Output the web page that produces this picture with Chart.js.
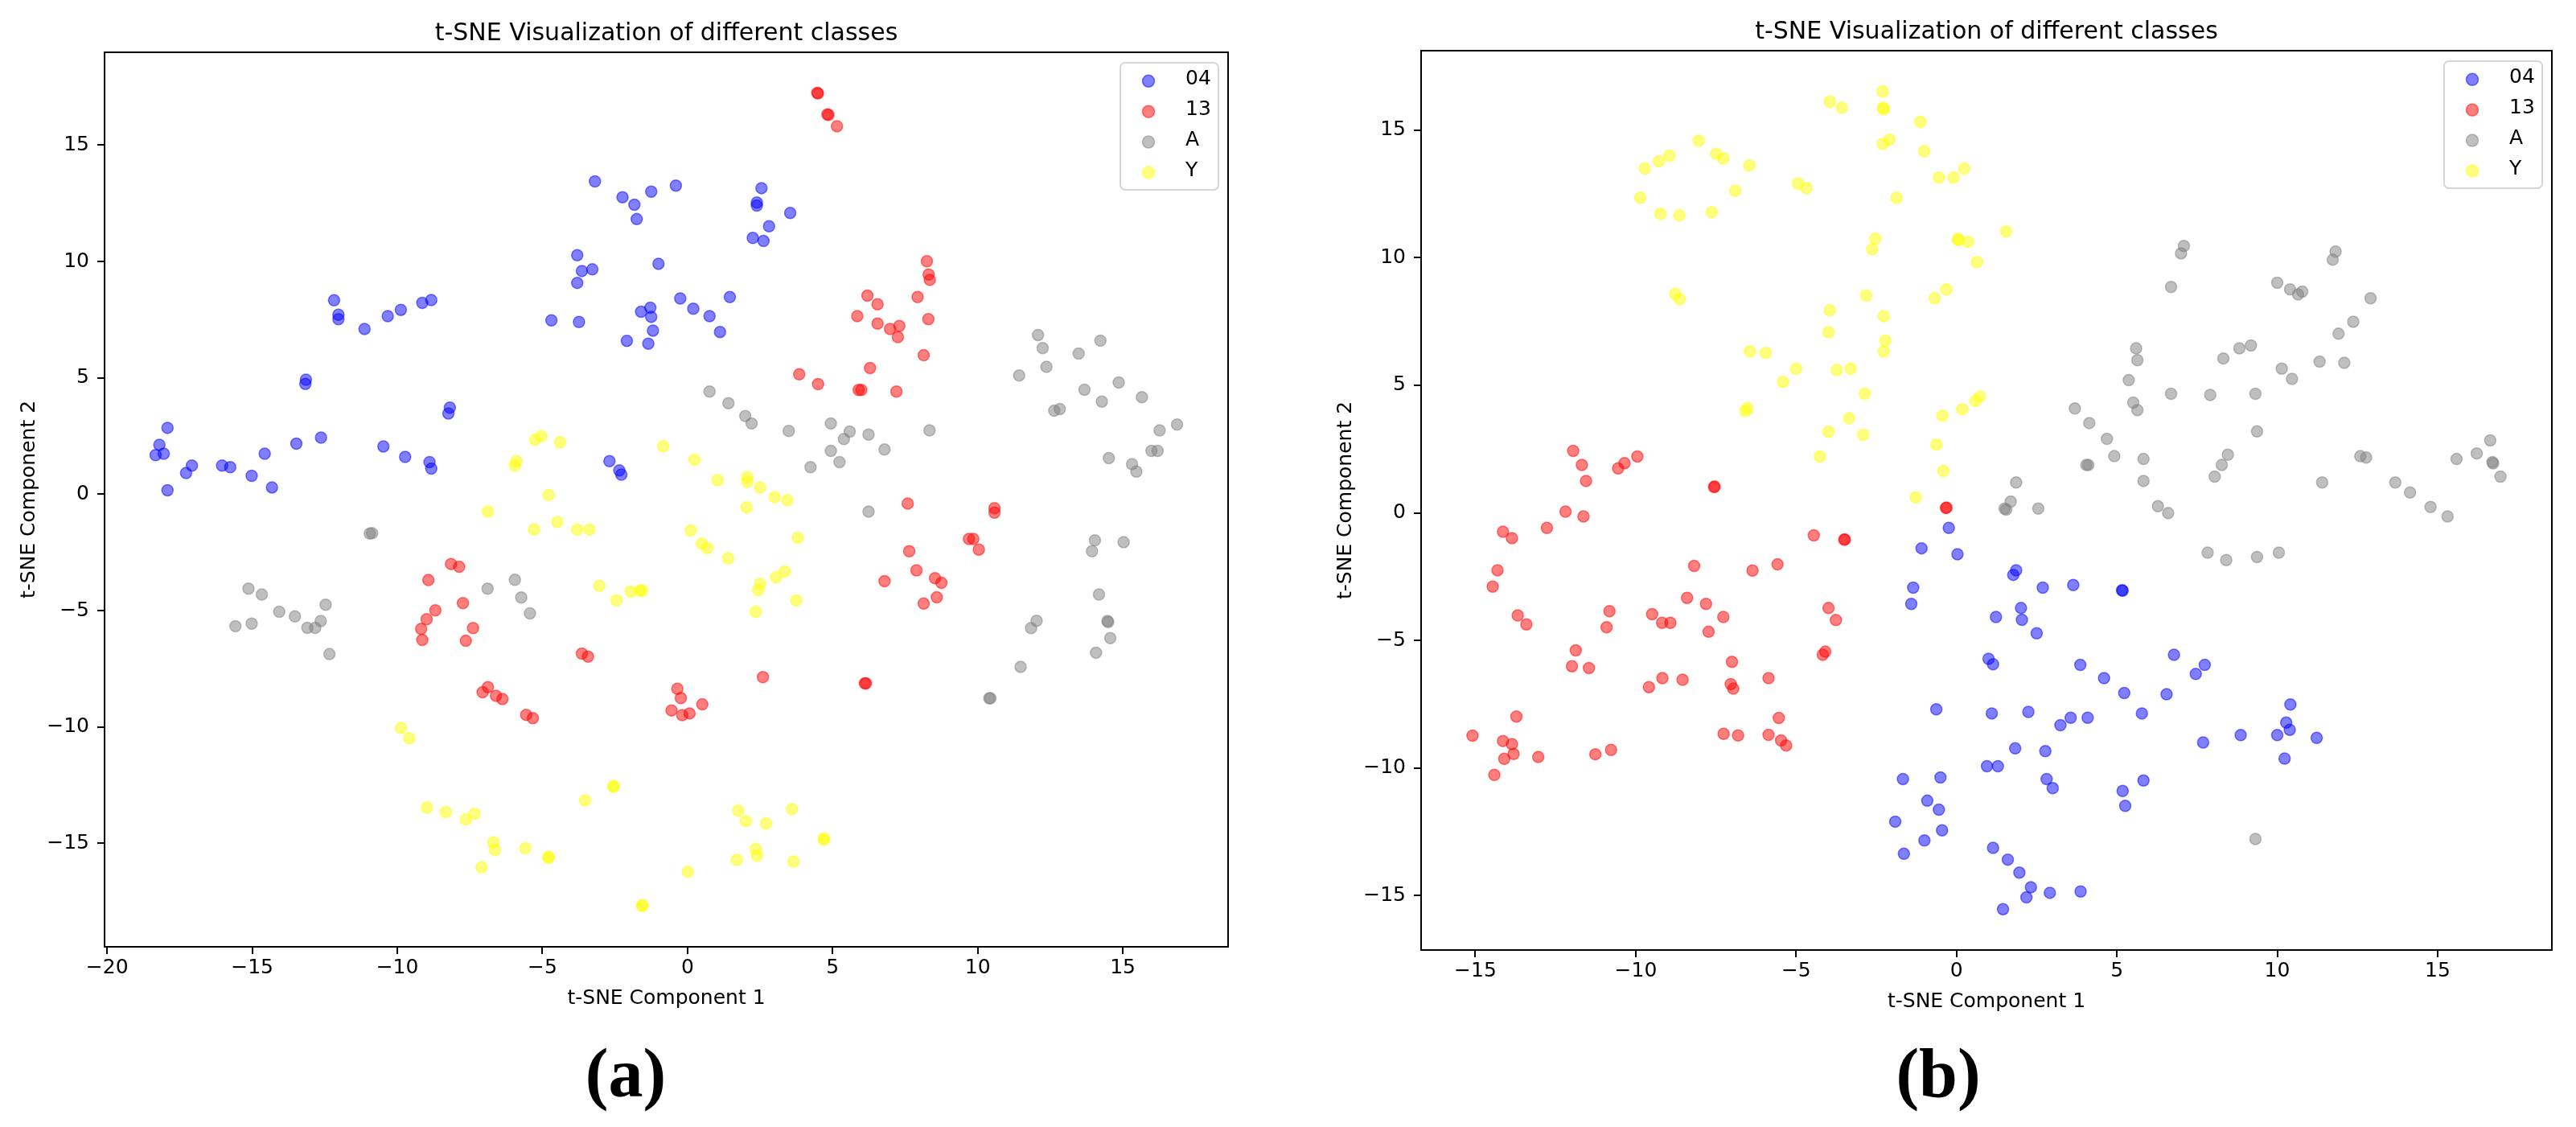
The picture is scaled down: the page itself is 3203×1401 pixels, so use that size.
<!DOCTYPE html>
<html>
<head>
<meta charset="utf-8">
<script src="https://cdn.jsdelivr.net/npm/chart.js@4.4.0/dist/chart.umd.min.js"></script>
<style>
  body { margin: 0; background: #fff; }
  #page { position: relative; width: 3203px; height: 1401px; background: #fff; }
  canvas { position: absolute; top: 0; }
  #chartA { left: 0; }
  #chartB { left: 1637px; }
  .cap { position: absolute; top: 1291px; width: 300px; text-align: center;
         font: bold 86px "Liberation Serif", serif; line-height: 1; color: #000; }
</style>
</head>
<body>
<div id="page">
  <canvas id="chartA" width="1580" height="1290"></canvas>
  <canvas id="chartB" width="1566" height="1290"></canvas>
  <div class="cap" style="left:628px">(a)</div>
  <div class="cap" style="left:2260px">(b)</div>
</div>
<script>
// class names and colours (matplotlib blue / red / gray / yellow, alpha 0.5)
const classes = ['04', '13', 'A', 'Y'];
const colors = ['rgba(0, 0, 255, 0.5)', 'rgba(255, 0, 0, 0.5)', 'rgba(128, 128, 128, 0.5)', 'rgba(255, 255, 0, 0.5)'];
const titleText = 't-SNE Visualization of different classes';
const xLabel = 't-SNE Component 1';
const yLabel = 't-SNE Component 2';
const tickStep = 5;

// ---- panel (a) ----
const a04 = [[-3.19,13.44],[-2.24,12.76],[-1.83,12.44],[-1.75,11.82],[-1.25,13.00],[-3.80,10.27],[-3.64,9.59],[-3.28,9.66],[-3.80,9.08],[-1.00,9.90],
  [-1.60,7.84],[-1.28,8.01],[-1.25,7.62],[-1.19,7.03],[-2.09,6.59],[-1.35,6.47],[-4.69,7.47],[-3.74,7.40],[-12.18,8.33],[-12.03,7.71],
  [-12.03,7.52],[-11.13,7.10],[-10.33,7.65],[-9.88,7.92],[-9.14,8.22],[-8.83,8.34],[-13.15,4.92],[-13.17,4.74],[-8.19,3.72],[-8.24,3.47],
  [-17.92,2.85],[-18.20,2.12],[-18.33,1.68],[-18.05,1.74],[-17.08,1.23],[-17.28,0.91],[-16.04,1.23],[-15.76,1.16],[-14.57,1.74],[-15.02,0.79],
  [-14.32,0.29],[-13.48,2.17],[-12.63,2.43],[-10.48,2.05],[-9.73,1.60],[-8.89,1.38],[-8.83,1.10],[-2.69,1.42],[-2.35,1.02],[-2.28,0.84],
  [-17.92,0.17],[-0.40,13.26],[2.55,13.15],[2.39,12.53],[2.39,12.40],[3.54,12.08],[2.81,11.51],[2.25,11.01],[2.62,10.88],[-0.25,8.41],
  [0.20,7.97],[0.76,7.65],[1.46,8.47],[1.12,6.97]];
const a13 = [[4.47,17.24],[4.50,17.22],[4.82,16.32],[4.86,16.30],[5.15,15.81],[8.25,10.01],[8.31,9.44],[8.35,9.21],[6.20,8.53],[6.55,8.16],
  [7.93,8.47],[5.85,7.65],[6.55,7.33],[6.98,7.10],[7.30,7.23],[7.25,6.75],[8.30,7.52],[8.14,5.97],[6.29,5.42],[3.85,5.15],
  [4.50,4.73],[5.90,4.48],[5.99,4.48],[7.20,4.41],[7.59,-0.40],[10.58,-0.60],[10.58,-0.79],[9.70,-1.92],[9.85,-1.92],[10.04,-2.38],
  [7.64,-2.45],[7.89,-3.27],[6.79,-3.74],[8.53,-3.61],[8.75,-3.81],[8.59,-4.43],[8.14,-4.70],[2.60,-7.86],[6.11,-8.13],[6.15,-8.13],
  [-0.35,-8.36],[-0.23,-8.76],[-0.55,-9.29],[-0.18,-9.49],[0.07,-9.42],[0.51,-9.03],[-8.15,-3.00],[-7.87,-3.12],[-8.93,-3.69],[-7.74,-4.68],
  [-8.69,-4.99],[-8.99,-5.37],[-9.18,-5.79],[-9.14,-6.26],[-7.39,-5.75],[-7.64,-6.30],[-3.64,-6.85],[-3.43,-6.98],[-6.88,-8.29],[-7.06,-8.51],
  [-6.60,-8.66],[-6.38,-8.80],[-5.56,-9.48],[-5.33,-9.62]];
const aA = [[0.76,4.41],[1.41,3.91],[1.99,3.36],[2.21,3.04],[3.49,2.72],[4.94,3.04],[5.59,2.69],[5.39,2.37],[6.24,2.56],[4.94,1.86],
  [5.24,1.38],[4.24,1.16],[6.79,1.92],[8.34,2.74],[12.08,6.84],[12.24,6.28],[13.48,6.04],[14.23,6.60],[12.37,5.47],[11.43,5.10],
  [13.68,4.49],[14.86,4.80],[14.28,3.98],[15.66,4.17],[12.64,3.59],[12.83,3.66],[16.27,2.74],[16.87,2.99],[15.99,1.86],[16.20,1.86],
  [14.52,1.55],[15.32,1.29],[15.47,0.97],[6.24,-0.75],[14.04,-1.98],[13.94,-2.45],[15.03,-2.06],[14.18,-4.31],[14.47,-5.45],[14.50,-5.49],
  [14.57,-6.18],[14.08,-6.81],[11.48,-7.42],[12.03,-5.44],[11.84,-5.75],[10.40,-8.77],[10.44,-8.77],[-10.95,-1.69],[-10.87,-1.67],[-15.13,-4.06],
  [-14.67,-4.31],[-12.47,-4.75],[-14.07,-5.05],[-13.53,-5.25],[-12.64,-5.45],[-15.58,-5.67],[-15.02,-5.56],[-13.10,-5.74],[-12.83,-5.74],[-12.34,-6.87],
  [-6.89,-4.06],[-5.95,-3.68],[-5.73,-4.44],[-5.43,-5.12]];
const aY = [[-5.25,2.34],[-5.04,2.49],[-4.39,2.23],[-0.84,2.06],[-5.90,1.42],[-5.95,1.23],[0.24,1.48],[1.04,0.61],[2.06,0.74],[2.06,0.52],
  [2.50,0.29],[3.00,-0.13],[3.44,-0.26],[2.04,-0.57],[0.11,-1.56],[0.49,-2.12],[0.68,-2.31],[1.40,-2.75],[3.80,-1.88],[3.35,-3.32],
  [3.05,-3.57],[2.50,-3.85],[2.44,-4.13],[3.75,-4.56],[2.35,-5.05],[1.75,-13.60],[2.01,-14.05],[2.71,-14.15],[3.60,-13.53],[4.70,-14.79],
  [4.70,-14.84],[2.35,-15.25],[2.40,-15.53],[1.70,-15.71],[3.65,-15.78],[0.01,-16.22],[-4.79,-0.03],[-6.88,-0.75],[-4.49,-1.20],[-5.29,-1.52],
  [-3.80,-1.52],[-3.38,-1.52],[-3.04,-3.94],[-2.45,-4.56],[-1.96,-4.19],[-1.64,-4.14],[-1.56,-4.14],[-9.88,-10.05],[-9.59,-10.49],[-2.55,-12.54],
  [-2.55,-12.57],[-3.53,-13.16],[-8.98,-13.47],[-8.33,-13.66],[-7.64,-13.98],[-7.34,-13.73],[-6.69,-14.95],[-6.64,-15.28],[-5.59,-15.21],[-4.79,-15.58],
  [-4.79,-15.63],[-7.10,-16.03],[-1.56,-17.66],[-1.56,-17.70]];

// ---- panel (b) ----
const b04 = [[-0.24,-0.59],[-1.09,-1.39],[0.03,-1.62],[-1.35,-2.93],[-1.41,-3.57],[-0.63,-7.70],[-1.67,-10.43],[-0.50,-10.37],[-0.91,-11.28],[-0.55,-11.63],
  [-1.91,-12.10],[-0.45,-12.44],[-1.00,-12.84],[-1.64,-13.36],[1.86,-2.25],[1.77,-2.43],[2.69,-2.93],[3.64,-2.83],[5.16,-3.03],[5.18,-3.05],
  [2.01,-3.73],[2.04,-4.19],[2.50,-4.72],[1.23,-4.08],[1.00,-5.72],[1.14,-5.93],[3.86,-5.96],[4.60,-6.48],[5.23,-7.06],[6.55,-7.11],
  [6.78,-5.56],[7.74,-5.96],[7.46,-6.31],[1.10,-7.86],[2.24,-7.80],[3.24,-8.32],[3.56,-8.03],[4.09,-8.03],[5.78,-7.86],[10.41,-7.51],
  [10.28,-8.22],[10.39,-8.50],[10.00,-8.71],[8.86,-8.71],[11.23,-8.82],[7.69,-9.00],[10.23,-9.63],[1.83,-9.23],[2.77,-9.34],[0.95,-9.93],
  [1.29,-9.93],[2.81,-10.43],[3.00,-10.79],[5.83,-10.49],[5.18,-10.90],[5.26,-11.48],[1.14,-13.13],[1.60,-13.59],[1.96,-14.10],[2.32,-14.67],
  [2.18,-15.07],[2.91,-14.89],[3.87,-14.84],[1.45,-15.53]];
const b13 = [[-11.95,2.43],[-11.68,1.88],[-11.55,1.25],[-10.55,1.74],[-10.35,1.95],[-9.95,2.21],[-7.56,1.01],[-7.54,1.03],[-0.33,0.19],[-0.31,0.21],
  [-12.19,0.05],[-11.63,-0.14],[-12.77,-0.59],[-14.14,-0.74],[-13.86,-0.99],[-14.31,-2.25],[-14.46,-2.89],[-13.68,-4.02],[-13.41,-4.37],[-10.82,-3.85],
  [-10.91,-4.48],[-11.87,-5.39],[-11.99,-6.01],[-11.46,-6.08],[-4.45,-0.88],[-3.50,-1.05],[-3.48,-1.05],[-8.18,-2.08],[-6.36,-2.26],[-5.58,-2.02],
  [-8.40,-3.33],[-7.81,-3.57],[-7.27,-4.08],[-7.73,-4.66],[-9.49,-3.97],[-9.18,-4.31],[-8.92,-4.31],[-3.99,-3.73],[-3.76,-4.20],[-4.17,-5.56],
  [-4.09,-5.44],[-7.00,-5.84],[-5.86,-6.48],[-9.17,-6.48],[-8.54,-6.54],[-9.59,-6.83],[-7.04,-6.71],[-6.96,-6.89],[-13.72,-7.98],[-15.09,-8.73],
  [-14.14,-8.94],[-13.86,-9.06],[-13.81,-9.45],[-14.10,-9.64],[-13.04,-9.57],[-14.41,-10.27],[-11.26,-9.46],[-10.77,-9.29],[-5.54,-8.04],[-7.26,-8.66],
  [-6.81,-8.72],[-5.86,-8.70],[-5.47,-8.92],[-5.31,-9.12]];
const bA = [[7.09,10.46],[7.00,10.17],[6.69,8.85],[11.82,10.24],[11.73,9.92],[10.00,9.02],[10.40,8.76],[10.65,8.56],[10.78,8.67],[12.91,8.41],
  [12.37,7.49],[11.91,7.02],[12.09,5.88],[11.32,5.93],[10.14,5.65],[10.46,5.25],[9.18,6.56],[8.82,6.45],[8.32,6.05],[9.32,4.67],
  [7.91,4.62],[6.69,4.67],[5.60,6.45],[5.64,5.98],[5.37,5.20],[5.51,4.32],[5.64,4.03],[3.69,4.09],[4.14,3.52],[4.69,2.90],
  [4.92,2.22],[5.83,2.11],[4.05,1.88],[4.11,1.88],[9.37,3.19],[8.46,2.28],[8.27,1.88],[8.05,1.42],[5.83,1.25],[1.86,1.19],
  [11.40,1.19],[12.59,2.22],[12.77,2.17],[13.68,1.19],[14.14,0.80],[15.59,2.11],[16.22,2.33],[16.64,2.84],[16.71,1.99],[16.73,1.94],
  [16.96,1.42],[1.69,0.44],[1.50,0.17],[1.55,0.13],[2.55,0.17],[6.28,0.26],[6.60,-0.01],[14.78,0.23],[15.31,-0.14],[7.83,-1.56],
  [8.41,-1.85],[9.37,-1.73],[10.05,-1.56],[9.32,-12.78]];
const bY = [[-2.30,16.51],[-3.95,16.12],[-3.58,15.87],[-2.29,15.87],[-2.27,15.82],[-1.13,15.32],[-2.30,14.46],[-2.09,14.63],[-1.01,14.17],[0.24,13.49],
  [-0.55,13.14],[-0.09,13.14],[-1.87,12.34],[-8.04,14.58],[-8.95,14.00],[-9.28,13.78],[-9.72,13.49],[-7.49,14.07],[-7.27,13.89],[-6.46,13.61],
  [-4.94,12.91],[-4.68,12.73],[-6.90,12.63],[-9.86,12.35],[-9.23,11.72],[-8.64,11.66],[-7.63,11.78],[-2.53,10.74],[-2.63,10.33],[0.05,10.74],
  [0.05,10.69],[0.36,10.62],[0.64,9.83],[-8.77,8.58],[-8.63,8.38],[-2.82,8.51],[-0.32,8.76],[-0.68,8.41],[-3.95,7.94],[-2.27,7.71],
  [-3.99,7.08],[-2.22,6.75],[-2.27,6.33],[-6.44,6.33],[-5.95,6.27],[-5.00,5.65],[-5.41,5.13],[-3.73,5.60],[-3.30,5.65],[-2.86,4.67],
  [0.73,4.56],[0.59,4.38],[0.18,4.06],[-0.44,3.81],[-6.52,4.10],[-6.58,3.99],[-3.35,3.71],[-3.99,3.18],[-2.91,3.06],[-0.63,2.67],
  [-4.26,2.21],[-0.41,1.64],[1.55,11.03],[-1.27,0.61]];

Chart.defaults.font.family = '"DejaVu Sans", sans-serif';
Chart.defaults.color = '#000';

// axis limits like matplotlib autoscale: data range plus 5% margin
function limits(series, k) {
  const vals = series.flat().map(p => p[k]);
  const lo = Math.min(...vals), hi = Math.max(...vals);
  const pad = (hi - lo) * 0.05;
  return [lo - pad, hi + pad];
}

const minusFmt = v => String(v).replace('-', '\u2212');

// title, full frame and the legend inside the axes
const framePlugin = {
  id: 'frame',
  afterDraw(chart) {
    const { ctx, chartArea: a } = chart;
    ctx.save();
    ctx.fillStyle = '#000';
    ctx.font = '30px "DejaVu Sans"';
    ctx.textAlign = 'center';
    ctx.textBaseline = 'alphabetic';
    ctx.fillText(titleText, (a.left + a.right) / 2, a.top - 15);

    ctx.lineWidth = 2;
    ctx.strokeStyle = '#000';
    ctx.strokeRect(a.left, a.top, a.right - a.left, a.bottom - a.top);

    const w = 122, h = 158;
    const bx = a.right - 12 - w, by = a.top + 13;
    ctx.beginPath();
    ctx.roundRect(bx, by, w, h, 6);
    ctx.fillStyle = 'rgba(255, 255, 255, 0.8)';
    ctx.fill();
    ctx.strokeStyle = '#d6d6d6';
    ctx.lineWidth = 2;
    ctx.stroke();

    ctx.font = '25px "DejaVu Sans"';
    ctx.textAlign = 'left';
    ctx.textBaseline = 'middle';
    chart.data.datasets.forEach((ds, i) => {
      const cy = by + 22.8 + i * 37.9;
      ctx.beginPath();
      ctx.arc(bx + 35, cy, 7.5, 0, Math.PI * 2);
      ctx.fillStyle = ds.backgroundColor;
      ctx.fill();
      ctx.lineWidth = 1.5;
      ctx.strokeStyle = ds.borderColor;
      ctx.stroke();
      ctx.fillStyle = '#000';
      ctx.fillText(ds.label, bx + 81, cy - 2);
    });
    ctx.restore();
  }
};

function makeChart(id, series, pad) {
  const [xmin, xmax] = limits(series, 0);
  const [ymin, ymax] = limits(series, 1);
  const tickGrid = { drawOnChartArea: false, drawTicks: true, tickLength: 9, lineWidth: 2, color: '#000' };
  return new Chart(document.getElementById(id), {
    type: 'scatter',
    data: {
      datasets: series.map((pts, i) => ({
        label: classes[i],
        data: pts.map(p => ({ x: p[0], y: p[1] })),
        backgroundColor: colors[i],
        borderColor: colors[i],
        borderWidth: 1.5,
        pointRadius: 7,
        order: series.length - i
      }))
    },
    options: {
      responsive: false,
      animation: false,
      events: [],
      layout: { padding: { left: 0, top: pad.top, right: pad.right, bottom: pad.bottom } },
      plugins: { legend: { display: false }, tooltip: { enabled: false } },
      scales: {
        x: {
          type: 'linear', min: xmin, max: xmax,
          afterFit: s => { s.height = 100; },
          border: { display: false },
          grid: tickGrid,
          ticks: { stepSize: tickStep, includeBounds: false, padding: 2, autoSkip: false, maxRotation: 0,
                   font: { size: 25 }, callback: minusFmt },
          title: { display: true, text: xLabel, font: { size: 25 }, padding: { top: 0, bottom: 21 } }
        },
        y: {
          type: 'linear', min: ymin, max: ymax,
          afterFit: s => { s.width = 130; },
          border: { display: false },
          grid: tickGrid,
          ticks: { stepSize: tickStep, includeBounds: false, padding: 10, autoSkip: false,
                   font: { size: 25 }, callback: minusFmt },
          title: { display: true, text: yLabel, font: { size: 25 }, padding: { top: 21, bottom: 0 } }
        }
      }
    },
    plugins: [framePlugin]
  });
}

makeChart('chartA', [a04, a13, aA, aY], { top: 65, right: 53, bottom: 13 });
makeChart('chartB', [b04, b13, bA, bY], { top: 63, right: 30, bottom: 9 });
</script>
</body>
</html>
